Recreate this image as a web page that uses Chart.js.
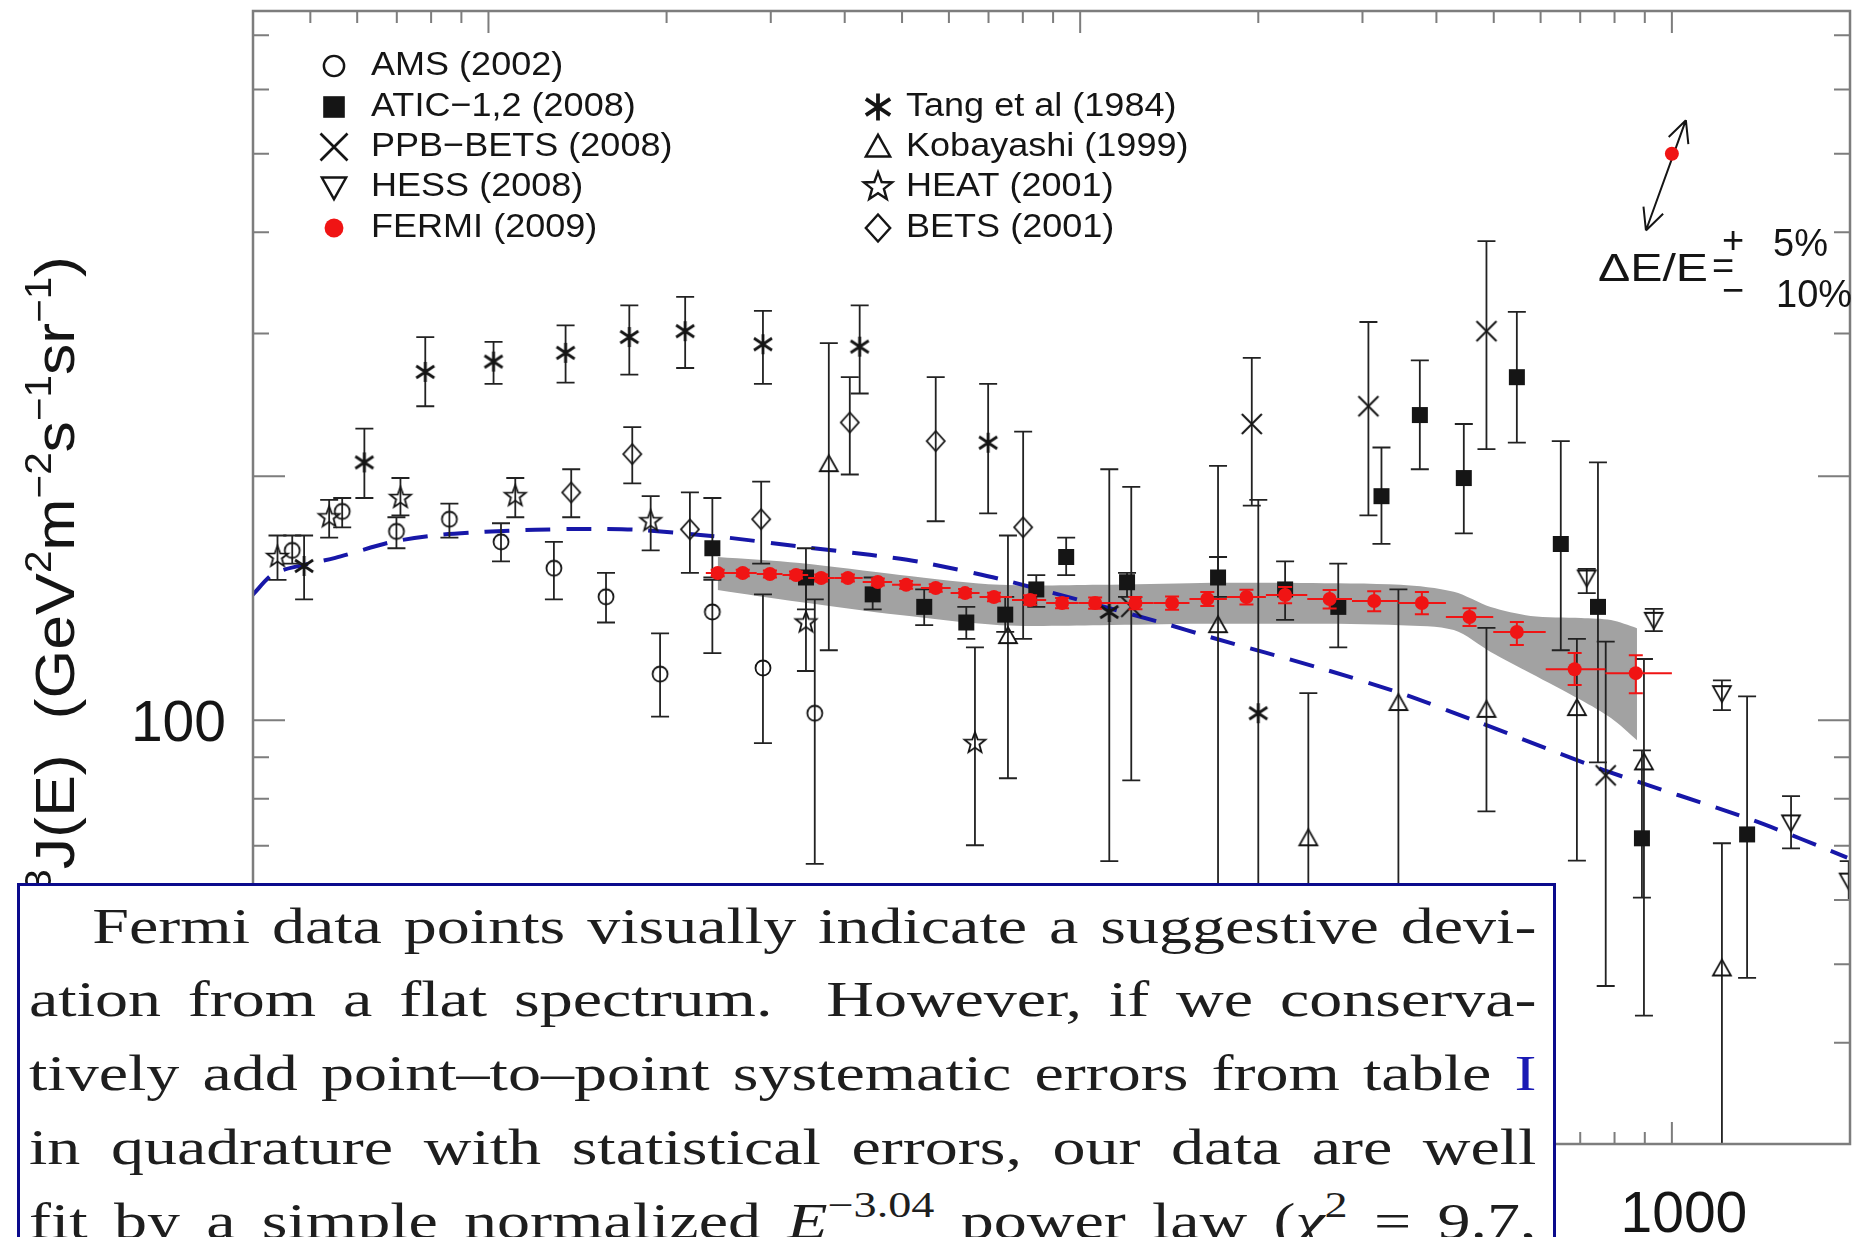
<!DOCTYPE html>
<html>
<head>
<meta charset="utf-8">
<title>Electron spectrum E^3 J(E)</title>
<script src="https://cdn.jsdelivr.net/npm/chart.js@4.4.1/dist/chart.umd.min.js"></script>
<style>
    html, body { margin: 0; padding: 0; background: #fff; overflow: hidden; }
    #wrap { position: relative; width: 1865px; height: 1237px; overflow: hidden; }
    #spectrum { position: absolute; left: 0; top: 0; }
    #note {
        position: absolute; left: 17px; top: 883px; width: 1539px; height: 420px;
        box-sizing: border-box; border: 3px solid #0b0b8c; background: #fff;
    }
    #note .ln {
        position: absolute; left: 9px; width: 1142px; height: 73.75px;
        transform: scaleX(1.32); transform-origin: 0 0;
        font: 50px/73.75px "Liberation Serif", "Times New Roman", serif;
        color: #1e1e1e; text-align: justify; text-align-last: justify;
    }
    #note .sup { font-size: 35px; position: relative; top: -21px; }
    #note .ref { color: #1a1ab4; }
</style>
</head>
<body>
<div id="wrap">
    <canvas id="spectrum" width="1865" height="1237"></canvas>
    <div id="note">
        <div class="ln" style="top:3.6px; text-indent:48px">Fermi data points visually indicate a suggestive devi-</div>
        <div class="ln" style="top:77.35px">ation from a flat spectrum.&nbsp; However, if we conserva-</div>
        <div class="ln" style="top:151.1px">tively add point–to–point systematic errors from table <span class="ref">I</span></div>
        <div class="ln" style="top:224.85px">in quadrature with statistical errors, our data are well</div>
        <div class="ln" style="top:298.6px">fit by a simple normalized <i>E</i><span class="sup">−3.04</span> power law (<i>χ</i><span class="sup">2</span> = 9.7,</div>
    </div>
</div>
<script>
// ---- data (energy in GeV, E^3 J(E) in GeV^2 m^-2 s^-1 sr^-1) ----

// AMS (2002)
const amsE  = [4.66, 5.66, 6.99, 8.59, 10.5, 12.9, 15.8, 19.5, 23.9, 29.1, 35.6];
const amsJ  = [162, 181, 171, 177, 166, 154, 142, 114, 136, 116, 102];
const amsLo = [156, 173, 163, 168, 157, 141, 132, 101, 121, 93.7, 66.5];
const amsHi = [169, 188, 178, 185, 175, 166, 152, 128, 149, 143, 141];

// ATIC-1,2 (2008)
const aticE  = [23.9, 34.4, 44.6, 54.5, 64.2, 74.7, 84.3, 94.7, 120, 171, 222, 273, 323, 375, 445, 547, 649, 750, 890, 1340];
const aticJ  = [163, 150, 143, 138, 132, 135, 145, 159, 148, 150, 145, 138, 189, 238, 199, 265, 165, 138, 71.5, 72.3];
const aticLo = [150, 137, 137, 131, 126, 128.5, 138, 151, 142, 142, 133, 123, 165, 204, 170, 220, 122, 88.7, 60.4, 48.1];
const aticHi = [188, 163, 150, 145, 138, 142, 151, 168, 152, 159, 157, 156, 217, 278, 232, 319, 221, 208, 91.8, 107];

// PPB-BETS (2008)
const ppbE  = [122, 195, 307, 486, 773];
const ppbJ  = [138, 232, 244, 302, 85.5];
const ppbLo = [84.3, 184, 179, 216, 47];
const ppbHi = [194, 280, 310, 390, 125];

// HESS (2008)
const hessE  = [718, 932, 1215, 1590, 1990];
const hessJ  = [150, 133, 108, 74.8, 63.4];
const hessLo = [143.5, 128.8, 102.9, 69.5, 60];
const hessHi = [153.7, 137.2, 112, 80.6, 67];

// FERMI (2009)
const fermiE  = [24.4, 26.9, 29.9, 33.1, 36.5, 40.5, 45.5, 50.8, 57.0, 63.9, 71.5, 82.3, 93.2,
                 106, 124, 143, 164, 191, 222, 264, 314, 378, 455, 547, 685, 869];
const fermiJ  = [151.9, 151.9, 151.5, 151.1, 149.8, 149.8, 148.1, 146.9, 145.6, 143.5, 141.9, 140.7, 139.5,
                 139.5, 139.5, 139.5, 141.1, 141.9, 142.7, 141.1, 140.3, 139.5, 134.1, 128.5, 115.6, 114.3];
const fermiLo = [150.5, 150.5, 150, 149.6, 148.3, 148.3, 146.6, 145.3, 144, 141.8, 140.2, 138.8, 137.5,
                 137.3, 137.1, 136.9, 138.3, 138.9, 139.4, 137.4, 136.3, 135.1, 130.7, 123.8, 110.5, 108.0];
const fermiHi = [153.3, 153.3, 153, 152.6, 151.3, 151.3, 149.6, 148.5, 147.2, 145.2, 143.6, 142.6, 141.5,
                 141.7, 141.9, 142.1, 143.9, 144.9, 146, 144.8, 144.3, 143.9, 137.5, 132.2, 121.0, 120.3];
const fermiEdges = [23.3, 25.6, 28.4, 31.4, 34.7, 38.4, 42.9, 48.1, 53.8, 60.4, 67.6, 76.7, 87.6, 99.4,
                    115, 133, 153, 177, 206, 242, 288, 345, 415, 499, 612, 772, 1000];

// Fermi systematic band
const bandE  = [24.4, 33.6, 49.6, 73.2, 108, 160, 236, 348, 428, 494, 577, 702, 789, 873];
const bandHi = [159, 156.3, 151.1, 146.9, 146.9, 147.7, 147.7, 146.9, 144, 137.9, 134.5, 133.7, 132.9, 129.9];
const bandLo = [144.8, 139.9, 134.8, 131, 131, 131.5, 131.5, 131, 129.2, 121.4, 114.3, 105.9, 100.6, 94.5];

// Tang et al (1984)
const tangE  = [4.88, 6.17, 7.82, 10.2, 13.5, 17.3, 21.5, 29.1, 42.4, 69.9, 112, 200];
const tangJ  = [155, 208, 269, 277, 284, 297, 302, 291, 289, 220, 136, 102];
const tangLo = [141, 188, 244, 260, 261, 267, 272, 260, 253, 180, 67, 40];
const tangHi = [169, 229, 297, 293, 307, 325, 333, 320, 325, 260, 204, 187];

// Kobayashi (1999)
const kobE  = [37.6, 75.5, 171, 243, 345, 486, 691, 897, 1215];
const kobJ  = [207, 127, 131, 71.5, 105, 103, 103.5, 88.7, 49.4];
const kobLo = [122, 84.8, 40, 35, 38, 77.2, 67.1, 43.2, 30];
const kobHi = [292, 169, 206, 108, 145, 130, 126, 119, 70.5];

// HEAT (2001)
const heatE  = [4.40, 5.38, 7.10, 11.1, 18.8, 34.4, 66.4];
const heatJ  = [159, 178, 188, 189, 176, 132, 93.7];
const heatLo = [149, 168, 179, 178, 162, 115, 70.1];
const heatHi = [169, 187, 199, 199, 189, 149, 123];

// BETS (2001)
const betsE  = [13.8, 17.5, 21.9, 28.9, 40.8, 57.0, 80.1];
const betsJ  = [191, 213, 172, 177, 233, 221, 173];
const betsLo = [178, 196, 152, 156, 201, 176, 126];
const betsHi = [204, 230, 191, 197, 265, 265, 227];

// model curve (blue dashed)
const modelE = [3.99, 4.36, 5.51, 6.88, 8.26, 9.88, 12.0, 14.6, 17.7, 24.6, 34.0, 44.1, 53.6, 74.1,
                138, 166, 255, 348, 462, 767, 1376, 1978];
const modelJ = [142.7, 152, 158.6, 166, 169.3, 170.8, 171.8, 172.2, 171.8, 168.4, 163.6, 160.0, 156.8, 149.0,
                131.8, 126.6, 115.9, 108.0, 100, 86.8, 75.2, 67.7];

// energy scale uncertainty marker: -10% / nominal / +5%
const shiftE = [904, 1000, 1056];
const shiftJ = [402, 500, 550];

// axes
const xRange = [4, 2000];
const yRange = [30, 750];
const xMajor = [10, 100, 1000];
const xMinor = [5, 6, 7, 8, 9, 20, 30, 40, 50, 60, 70, 80, 90, 200, 300, 400, 500, 600, 700, 800, 900];
const yMajor = [100, 200];
const yMinor = [40, 50, 60, 70, 80, 90, 300, 400, 500, 600, 700];
const xLabels = ['10', '100', '1000'];
const yLabels = ['100'];

const INK = '#151515';
const RED = '#f01414';
const SANS = '"Liberation Sans", Arial, Helvetica, sans-serif';

// ---- marker glyphs ----
function glyph(g, kind) {
    g.lineWidth = 1.8;
    g.strokeStyle = INK;
    g.fillStyle = INK;
    g.beginPath();
    switch (kind) {
        case 'circle':
            g.arc(0, 0, 7.5, 0, Math.PI * 2); g.stroke(); break;
        case 'square':
            g.fillRect(-8, -8, 16, 16); break;
        case 'cross':
            g.lineWidth = 2;
            g.moveTo(-10, -10); g.lineTo(10, 10); g.moveTo(-10, 10); g.lineTo(10, -10); g.stroke(); break;
        case 'tridown':
            g.moveTo(-9, -7); g.lineTo(9, -7); g.lineTo(0, 9); g.closePath(); g.stroke(); break;
        case 'triup':
            g.moveTo(-9, 7); g.lineTo(9, 7); g.lineTo(0, -9); g.closePath(); g.stroke(); break;
        case 'asterisk':
            g.lineWidth = 2.8;
            g.moveTo(0, -10); g.lineTo(0, 10);
            g.moveTo(-9, -6); g.lineTo(9, 6);
            g.moveTo(-9, 6); g.lineTo(9, -6); g.stroke(); break;
        case 'star':
            for (let k = 0; k < 10; k++) {
                const r = k % 2 ? 4.6 : 11;
                const t = -Math.PI / 2 + k * Math.PI / 5;
                g.lineTo(r * Math.cos(t), r * Math.sin(t));
            }
            g.closePath(); g.stroke(); break;
        case 'diamond':
            g.moveTo(0, -10); g.lineTo(9, 0); g.lineTo(0, 10); g.lineTo(-9, 0); g.closePath(); g.stroke(); break;
        case 'dot':
            g.fillStyle = RED; g.arc(0, 0, 7, 0, Math.PI * 2); g.fill(); break;
    }
}

function marker(kind, s) {
    const size = 2 * Math.ceil(15 * s);
    const c = document.createElement('canvas');
    c.width = c.height = size;
    const g = c.getContext('2d');
    g.translate(size / 2, size / 2);
    g.scale(s, s);
    glyph(g, kind);
    return c;
}

function pts(xs, ys) {
    return xs.map((v, i) => ({ x: v, y: ys[i] }));
}

function scatterSet(label, xs, ys, lo, hi, kind, order) {
    return {
        label: label,
        data: pts(xs, ys),
        errLo: lo,
        errHi: hi,
        pointStyle: marker(kind, 1),
        pointRadius: 9,
        order: order,
        clip: 0
    };
}

// ---- plugins ----

// vertical (and for Fermi horizontal) error bars, drawn just under each dataset's markers
const errorBars = {
    id: 'errorBars',
    beforeDatasetDraw(chart, args) {
        const ds = chart.data.datasets[args.index];
        if (!ds.errLo) return;
        const { ctx, chartArea: a, scales: { x, y } } = chart;
        const cap = ds.capHalf || 9;
        ctx.save();
        ctx.beginPath();
        ctx.rect(a.left, a.top, a.right - a.left, a.bottom - a.top);
        ctx.clip();
        ctx.strokeStyle = ds.barColor || '#222';
        ctx.lineWidth = ds.barWidth || 1.8;
        ds.data.forEach((p, i) => {
            const px = x.getPixelForValue(p.x);
            const lo = y.getPixelForValue(ds.errLo[i]);
            const hi = y.getPixelForValue(ds.errHi[i]);
            ctx.beginPath();
            ctx.moveTo(px, lo); ctx.lineTo(px, hi);
            ctx.moveTo(px - cap, lo); ctx.lineTo(px + cap, lo);
            ctx.moveTo(px - cap, hi); ctx.lineTo(px + cap, hi);
            if (ds.binLo) {
                const py = y.getPixelForValue(p.y);
                ctx.moveTo(x.getPixelForValue(ds.binLo[i]), py);
                ctx.lineTo(x.getPixelForValue(ds.binHi[i]), py);
            }
            ctx.stroke();
        });
        ctx.restore();
    }
};

// plot frame with inward ticks on all four sides, tick labels, arrow marker
const frame = {
    id: 'frame',
    afterDatasetsDraw(chart) {
        const { ctx, chartArea: a, scales: { x, y } } = chart;
        ctx.save();

        // energy-scale arrow
        const ax = shiftE.map(v => x.getPixelForValue(v));
        const ay = shiftJ.map(v => y.getPixelForValue(v));
        ctx.strokeStyle = INK;
        ctx.lineWidth = 2;
        ctx.beginPath();
        ctx.moveTo(ax[0], ay[0]);
        ctx.lineTo(ax[2], ay[2]);
        [[0, 2], [2, 0]].forEach(([tip, from]) => {
            const ang = Math.atan2(ay[tip] - ay[from], ax[tip] - ax[from]);
            [-0.45, 0.45].forEach(d => {
                ctx.moveTo(ax[tip], ay[tip]);
                ctx.lineTo(ax[tip] - 24 * Math.cos(ang + d), ay[tip] - 24 * Math.sin(ang + d));
            });
        });
        ctx.stroke();
        ctx.fillStyle = RED;
        ctx.beginPath();
        ctx.arc(ax[1], ay[1], 7, 0, Math.PI * 2);
        ctx.fill();

        // frame
        ctx.strokeStyle = '#7d7d7d';
        ctx.lineWidth = 2.5;
        ctx.strokeRect(a.left, a.top, a.right - a.left, a.bottom - a.top);

        ctx.lineWidth = 2;
        ctx.beginPath();
        const xt = (v, len) => {
            const px = x.getPixelForValue(v);
            ctx.moveTo(px, a.top); ctx.lineTo(px, a.top + len);
            ctx.moveTo(px, a.bottom); ctx.lineTo(px, a.bottom - len);
        };
        const yt = (v, len) => {
            const py = y.getPixelForValue(v);
            ctx.moveTo(a.left, py); ctx.lineTo(a.left + len, py);
            ctx.moveTo(a.right, py); ctx.lineTo(a.right - len, py);
        };
        xMajor.forEach(v => xt(v, 22));
        xMinor.forEach(v => xt(v, 12));
        yMajor.forEach(v => yt(v, 32));
        yMinor.forEach(v => yt(v, 16));
        ctx.stroke();

        // tick labels
        ctx.fillStyle = INK;
        ctx.font = '57px ' + SANS;
        ctx.textAlign = 'center';
        ctx.textBaseline = 'alphabetic';
        xMajor.forEach((v, i) => ctx.fillText(xLabels[i], x.getPixelForValue(v) + 12, a.bottom + 88));
        ctx.textAlign = 'right';
        yLabels.forEach(t => ctx.fillText(t, a.left - 27, y.getPixelForValue(Number(t)) + 21));
        ctx.restore();
    }
};

// legend, axis title and energy-scale note
const annotations = {
    id: 'annotations',
    afterDraw(chart) {
        const ctx = chart.ctx;
        ctx.save();
        ctx.fillStyle = INK;
        ctx.textBaseline = 'alphabetic';
        ctx.textAlign = 'left';

        const rows = [63, 104, 144, 184, 225];
        const left = [['circle', 'AMS (2002)'], ['square', 'ATIC−1,2 (2008)'], ['cross', 'PPB−BETS (2008)'],
                      ['tridown', 'HESS (2008)'], ['dot', 'FERMI (2009)']];
        const right = [['asterisk', 'Tang et al (1984)'], ['triup', 'Kobayashi (1999)'],
                       ['star', 'HEAT (2001)'], ['diamond', 'BETS (2001)']];
        const entry = (kind, text, sx, tx, ry) => {
            const m = marker(kind, 1.35);
            ctx.drawImage(m, sx - m.width / 2, ry + 3 - m.height / 2);
            ctx.save();
            ctx.translate(tx, ry + 12);
            ctx.scale(1.06, 1);
            ctx.font = '34px ' + SANS;
            ctx.fillText(text, 0, 0);
            ctx.restore();
        };
        left.forEach(([k, t], i) => entry(k, t, 334, 371, rows[i]));
        right.forEach(([k, t], i) => entry(k, t, 878, 906, rows[i + 1]));

        // rotated y title with superscripts
        const parts = [['E', 0], ['3', 1], ['J(E)  (GeV', 0], ['2', 1], ['m', 0], ['−2', 1],
                       ['s', 0], ['−1', 1], ['sr', 0], ['−1', 1], [')', 0]];
        const big = '56px ' + SANS;
        const small = '36px ' + SANS;
        let total = 0;
        parts.forEach(([t, sup]) => { ctx.font = sup ? small : big; total += ctx.measureText(t).width; });
        ctx.save();
        ctx.translate(74, 256);
        ctx.rotate(-Math.PI / 2);
        ctx.scale(1.12, 1);
        let u = -total;
        parts.forEach(([t, sup]) => {
            ctx.font = sup ? small : big;
            ctx.fillText(t, u, sup ? -23 : 0);
            u += ctx.measureText(t).width;
        });
        ctx.restore();

        // energy scale uncertainty text
        ctx.font = '38px ' + SANS;
        const dw = ctx.measureText('ΔE/E').width;
        ctx.save();
        ctx.translate(1598, 281);
        ctx.scale(110 / dw, 1);
        ctx.fillText('ΔE/E', 0, 0);
        ctx.restore();
        ctx.fillText('5%', 1773, 256);
        ctx.fillText('10%', 1776, 307);
        ctx.textAlign = 'center';
        ctx.textBaseline = 'middle';
        ctx.fillText('+', 1733, 243);
        ctx.fillText('=', 1723, 269);
        ctx.fillText('−', 1733, 293);
        ctx.restore();
    }
};

// ---- chart ----
const fermiSet = {
    label: 'FERMI (2009)',
    data: pts(fermiE, fermiJ),
    errLo: fermiLo,
    errHi: fermiHi,
    binLo: fermiEdges.slice(0, -1),
    binHi: fermiEdges.slice(1),
    barColor: RED,
    barWidth: 2,
    capHalf: 7,
    pointStyle: 'circle',
    pointRadius: 7,
    backgroundColor: RED,
    borderWidth: 0,
    order: 1,
    clip: 0
};

new Chart(document.getElementById('spectrum'), {
    type: 'scatter',
    data: {
        datasets: [
            fermiSet,
            scatterSet('ATIC-1,2 (2008)', aticE, aticJ, aticLo, aticHi, 'square', 2),
            scatterSet('PPB-BETS (2008)', ppbE, ppbJ, ppbLo, ppbHi, 'cross', 3),
            scatterSet('HESS (2008)', hessE, hessJ, hessLo, hessHi, 'tridown', 4),
            scatterSet('AMS (2002)', amsE, amsJ, amsLo, amsHi, 'circle', 5),
            scatterSet('Tang et al (1984)', tangE, tangJ, tangLo, tangHi, 'asterisk', 6),
            scatterSet('Kobayashi (1999)', kobE, kobJ, kobLo, kobHi, 'triup', 7),
            scatterSet('HEAT (2001)', heatE, heatJ, heatLo, heatHi, 'star', 8),
            scatterSet('BETS (2001)', betsE, betsJ, betsLo, betsHi, 'diamond', 9),
            {
                type: 'line',
                label: 'model',
                data: pts(modelE, modelJ),
                borderColor: '#1717a8',
                borderWidth: 4,
                borderDash: [25, 16],
                pointRadius: 0,
                tension: 0.25,
                fill: false,
                order: 15,
                clip: 0
            },
            {
                type: 'line',
                label: 'band upper',
                data: pts(bandE, bandHi),
                borderWidth: 0,
                borderColor: 'rgba(0,0,0,0)',
                backgroundColor: '#a2a2a2',
                pointRadius: 0,
                tension: 0.3,
                fill: '+1',
                order: 20
            },
            {
                type: 'line',
                label: 'band lower',
                data: pts(bandE, bandLo),
                borderWidth: 0,
                borderColor: 'rgba(0,0,0,0)',
                pointRadius: 0,
                tension: 0.3,
                fill: false,
                order: 21
            }
        ]
    },
    options: {
        responsive: false,
        devicePixelRatio: 1,
        animation: false,
        events: [],
        layout: { padding: { left: 253, right: 15, top: 11, bottom: 93 } },
        plugins: {
            legend: { display: false },
            tooltip: { enabled: false }
        },
        scales: {
            x: { type: 'logarithmic', min: xRange[0], max: xRange[1], display: false },
            y: { type: 'logarithmic', min: yRange[0], max: yRange[1], display: false }
        }
    },
    plugins: [errorBars, frame, annotations]
});
</script>
</body>
</html>
